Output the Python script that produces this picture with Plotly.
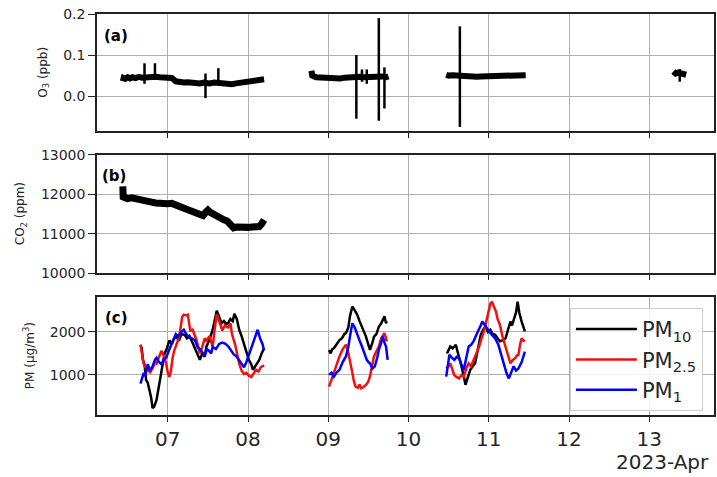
import numpy as np
import pandas as pd
import plotly.graph_objects as go

# ---------------- data (day-of-month, fractional) ----------------
o3_days = [6.44, 6.45, 6.47, 6.50, 6.53, 6.56, 6.60, 6.64, 6.68, 6.72, 6.76, 6.80, 6.85,
           6.90, 6.95, 7.00, 7.05, 7.10, 7.15, 7.20, 7.25, 7.30, 7.35, 7.40, 7.45, 7.48,
           7.52, 7.58, 7.64, 7.70, 7.75, 7.80, 7.85, 7.90, 7.95, 8.00, 8.05, 8.10, 8.15, 8.20,
           None,
           8.79, 8.80, 8.85, 8.90, 8.95, 9.00, 9.05, 9.10, 9.15, 9.20, 9.25, 9.30, 9.33, 9.36,
           9.40, 9.44, 9.50, 9.55, 9.60, 9.64, 9.68, 9.72, 9.75,
           None,
           10.47, 10.50, 10.55, 10.60, 10.65, 10.70, 10.75, 10.80, 10.85, 10.90, 10.95, 11.00,
           11.05, 11.10, 11.15, 11.20, 11.25, 11.30, 11.35, 11.40, 11.46,
           None,
           13.30, 13.33, 13.36, 13.40, 13.43, 13.46]
o3_vals = [0.036, 0.044, 0.042, 0.046, 0.043, 0.046, 0.044, 0.047, 0.045, 0.046, 0.046, 0.045, 0.047,
           0.046, 0.046, 0.045, 0.044, 0.036, 0.034, 0.033, 0.034, 0.032, 0.033, 0.031, 0.033, 0.032,
           0.031, 0.033, 0.032, 0.029, 0.030, 0.029, 0.031, 0.032, 0.033, 0.034, 0.035, 0.037, 0.040, 0.041,
           None,
           0.062, 0.050, 0.046, 0.045, 0.044, 0.044, 0.043, 0.041, 0.043, 0.045, 0.046, 0.047, 0.048, 0.046,
           0.047, 0.046, 0.047, 0.046, 0.047, 0.046, 0.048, 0.046, 0.048,
           None,
           0.052, 0.050, 0.051, 0.050, 0.050, 0.049, 0.048, 0.048, 0.047, 0.048, 0.048, 0.049,
           0.048, 0.049, 0.049, 0.050, 0.049, 0.050, 0.051, 0.050, 0.051,
           None,
           0.060, 0.055, 0.057, 0.055, 0.053, 0.052]

# O3 short spikes (time, low, high)
o3_spike_days = [6.71, 6.84, 7.47, 7.63, 9.35, 9.42, 9.48, 9.63, 9.70, 10.64, 13.38]
o3_spike_lo = [0.030, 0.040, -0.005, 0.030, -0.055, 0.035, 0.030, -0.060, -0.030, -0.075, 0.035]
o3_spike_hi = [0.080, 0.080, 0.055, 0.068, 0.100, 0.065, 0.065, 0.190, 0.070, 0.170, 0.066]

co2_days = [6.44, 6.445, 6.47, 6.50, 6.55, 6.60, 6.65, 6.70, 6.75, 6.80, 6.85, 6.90, 6.95,
            7.00, 7.05, 7.10, 7.15, 7.20, 7.25, 7.30, 7.35, 7.40, 7.44, 7.48, 7.50, 7.53,
            7.56, 7.60, 7.65, 7.70, 7.74, 7.78, 7.82, 7.86, 7.90, 7.95, 8.00, 8.05, 8.10,
            8.14, 8.17, 8.20]
co2_vals = [12200, 11880, 11920, 11890, 11910, 11880, 11890, 11850, 11830, 11800, 11780, 11760, 11770,
            11760, 11770, 11740, 11680, 11640, 11610, 11570, 11540, 11500, 11460, 11560, 11600, 11540,
            11500, 11450, 11400, 11350, 11320, 11200, 11150, 11170, 11160, 11170, 11160, 11170, 11160,
            11180, 11250, 11350]

pm10_days = [6.66, 6.675, 6.69, 6.71, 6.73, 6.75, 6.78, 6.795, 6.81, 6.83, 6.86, 6.88, 6.90, 6.93,
             6.96, 6.99, 7.02, 7.05, 7.08, 7.11, 7.14, 7.17, 7.21, 7.24, 7.27, 7.31, 7.34, 7.37,
             7.40, 7.43, 7.46, 7.48, 7.52, 7.56, 7.58, 7.61, 7.64, 7.67, 7.70, 7.73, 7.75, 7.78,
             7.81, 7.83, 7.86, 7.89, 7.92, 7.95, 7.98, 8.01, 8.04, 8.06, 8.09, 8.12, 8.14, 8.17, 8.20,
             None,
             9.01, 9.03, 9.05, 9.07, 9.10, 9.14, 9.17, 9.20, 9.22, 9.25, 9.27, 9.30, 9.33, 9.36,
             9.39, 9.42, 9.45, 9.47, 9.50, 9.52, 9.55, 9.57, 9.60, 9.63, 9.66, 9.70, 9.72, 9.73,
             None,
             10.48, 10.50, 10.52, 10.55, 10.59, 10.61, 10.63, 10.66, 10.69, 10.71, 10.74, 10.77,
             10.80, 10.83, 10.86, 10.90, 10.93, 10.96, 10.99, 11.02, 11.05, 11.08, 11.11, 11.14,
             11.17, 11.21, 11.24, 11.27, 11.29, 11.31, 11.34, 11.36, 11.38, 11.41, 11.43, 11.45]
pm10_vals = [1700, 1620, 1350, 1250, 880, 820, 580, 450, 230, 260, 420, 640, 880, 1150,
             1500, 1620, 1800, 1720, 1850, 1880, 1800, 1950, 1930, 1850, 1900, 1740, 1600, 1480,
             1350, 1500, 1420, 1650, 1820, 2050, 2200, 2490, 2350, 2200, 2250, 2180, 2200, 2300,
             2250, 2420, 2300, 2050, 1900, 1700, 1500, 1350, 1250, 1120, 1200, 1300, 1350, 1500, 1620,
             None,
             1580, 1500, 1600, 1620, 1700, 1810, 1850, 1950, 1970, 2100, 2360, 2590, 2500, 2400,
             2250, 2120, 2000, 1890, 1700, 1580, 1750, 1890, 1950, 2120, 2200, 2360, 2200, 2250,
             None,
             1500, 1600, 1660, 1620, 1700, 1550, 1430, 1200, 960, 770, 950, 1120,
             1200, 1270, 1550, 1930, 2050, 2120, 2000, 2050, 1950, 1930, 1850, 1780,
             1800, 1850, 2050, 2240, 2150, 2270, 2450, 2700, 2450, 2240, 2100, 2010]

pm25_days = [6.66, 6.68, 6.70, 6.73, 6.76, 6.78, 6.81, 6.84, 6.86, 6.89, 6.92, 6.95, 6.98, 7.00,
             7.02, 7.04, 7.06, 7.08, 7.11, 7.14, 7.16, 7.18, 7.20, 7.23, 7.25, 7.28, 7.31, 7.33,
             7.36, 7.40, 7.43, 7.46, 7.48, 7.52, 7.56, 7.58, 7.61, 7.64, 7.68, 7.71, 7.75, 7.78,
             7.80, 7.84, 7.87, 7.89, 7.92, 7.95, 7.98, 8.01, 8.04, 8.07, 8.10, 8.13, 8.16, 8.20,
             None,
             9.01, 9.04, 9.07, 9.10, 9.14, 9.18, 9.22, 9.24, 9.27, 9.30, 9.32, 9.34, 9.37, 9.39,
             9.41, 9.44, 9.47, 9.50, 9.52, 9.55, 9.57, 9.60, 9.63, 9.66, 9.70, 9.72, 9.73,
             None,
             10.47, 10.50, 10.52, 10.55, 10.57, 10.60, 10.63, 10.66, 10.69, 10.72, 10.75, 10.78,
             10.81, 10.85, 10.88, 10.91, 10.94, 10.97, 11.00, 11.02, 11.04, 11.06, 11.09, 11.11,
             11.14, 11.17, 11.21, 11.24, 11.27, 11.30, 11.33, 11.35, 11.37, 11.39, 11.41, 11.43, 11.45]
pm25_vals = [1700, 1500, 1260, 1150, 1080, 1060, 1150, 1300, 1260, 1400, 1560, 1450, 1260, 1050,
             950, 1100, 1400, 1560, 1700, 1870, 2100, 2350, 2400, 2380, 2400, 2030, 2050, 1950,
             1800, 1500, 1650, 1850, 1800, 1900, 1650, 2000, 2410, 2250, 2030, 2150, 2100, 2200,
             1950, 1700, 1450, 1260, 1100, 1020, 1050, 980, 950, 1050, 1120, 1080, 1180, 1220,
             None,
             730, 900, 1050, 1250, 1430, 1600, 1700, 1600, 1350, 1050, 850, 730, 700, 780,
             690, 720, 770, 850, 970, 1250, 1430, 1550, 1660, 1850, 1970, 1850, 1780,
             None,
             1150, 1200, 1270, 1100, 1000, 950, 920, 1000, 960, 1150, 1270, 1200,
             1350, 1500, 1660, 1850, 2010, 2250, 2510, 2650, 2700, 2600, 2470, 2300,
             2160, 1900, 1660, 1450, 1270, 1350, 1390, 1450, 1470, 1700, 1850, 1800, 1780]

pm1_days = [6.66, 6.68, 6.70, 6.72, 6.75, 6.78, 6.81, 6.84, 6.86, 6.89, 6.92, 6.95, 6.98, 7.01,
            7.04, 7.07, 7.10, 7.13, 7.16, 7.20, 7.23, 7.27, 7.30, 7.34, 7.37, 7.40, 7.43, 7.46,
            7.49, 7.51, 7.54, 7.56, 7.60, 7.64, 7.68, 7.72, 7.76, 7.79, 7.82, 7.86, 7.89, 7.92,
            7.95, 7.98, 8.00, 8.03, 8.06, 8.09, 8.12, 8.15, 8.18, 8.20,
            None,
            9.01, 9.04, 9.07, 9.10, 9.14, 9.18, 9.22, 9.25, 9.27, 9.30, 9.33, 9.36, 9.39, 9.42,
            9.45, 9.48, 9.50, 9.52, 9.55, 9.58, 9.61, 9.63, 9.66, 9.68, 9.70, 9.72, 9.74,
            None,
            10.47, 10.49, 10.51, 10.54, 10.57, 10.60, 10.63, 10.66, 10.69, 10.72, 10.75, 10.78,
            10.81, 10.85, 10.88, 10.90, 10.92, 10.95, 10.98, 11.01, 11.04, 11.08, 11.12, 11.15,
            11.19, 11.22, 11.25, 11.28, 11.31, 11.34, 11.37, 11.41, 11.45]
pm1_vals = [800, 950, 1050, 980, 1250, 1100, 1200, 1350, 1400, 1300, 1250, 1350, 1400, 1550,
            1700, 1800, 1950, 1900, 1980, 2050, 1950, 1870, 1850, 1800, 1650, 1600, 1530, 1450,
            1600, 1570, 1500, 1650, 1600, 1720, 1750, 1720, 1650, 1570, 1480, 1420, 1330, 1250,
            1180, 1300, 1400, 1550, 1720, 1900, 2050, 1850, 1720, 1570,
            None,
            1000, 1050, 960, 1050, 1120, 1300, 1430, 1650, 1890, 2200, 2100, 1970, 1800, 1660,
            1500, 1350, 1300, 1270, 1150, 1200, 1400, 1580, 1750, 1890, 1750, 1660, 1350,
            None,
            960, 1200, 1470, 1400, 1350, 1420, 1390, 1250, 1120, 1400, 1660, 1700,
            1780, 1950, 2050, 2150, 2240, 2150, 2080, 2000, 1930, 1850, 1700, 1500,
            1270, 1050, 920, 1050, 1200, 1100, 1150, 1300, 1540]

x_tick_days = [7, 8, 9, 10, 11, 12, 13]
x_range_days = [6.118, 13.807]

# ---------------- helpers ----------------
BASE = pd.Timestamp("2023-03-31")


def to_time(days):
    return [None if d is None else (BASE + pd.Timedelta(days=d)).strftime("%Y-%m-%d %H:%M:%S")
            for d in days]


spike_x, spike_y = [], []
for d, lo, hi in zip(o3_spike_days, o3_spike_lo, o3_spike_hi):
    t = to_time([d])[0]
    spike_x += [t, t, None]
    spike_y += [lo, hi, None]

FONT = "DejaVu Sans"
TXT = "#262626"

fig = go.Figure()
fig.add_trace(go.Scatter(x=to_time(o3_days), y=o3_vals, mode="lines",
                         line=dict(color="black", width=6), showlegend=False,
                         xaxis="x", yaxis="y"))
fig.add_trace(go.Scatter(x=spike_x, y=spike_y, mode="lines",
                         line=dict(color="black", width=2.5), showlegend=False,
                         xaxis="x", yaxis="y"))
fig.add_trace(go.Scatter(x=to_time(co2_days), y=co2_vals, mode="lines",
                         line=dict(color="black", width=7), showlegend=False,
                         xaxis="x2", yaxis="y2"))
fig.add_trace(go.Scatter(x=to_time(pm10_days), y=pm10_vals, mode="lines", name="PM<sub>10</sub>",
                         line=dict(color="black", width=2.5), xaxis="x3", yaxis="y3"))
fig.add_trace(go.Scatter(x=to_time(pm25_days), y=pm25_vals, mode="lines", name="PM<sub>2.5</sub>",
                         line=dict(color="#f01010", width=2.5), xaxis="x3", yaxis="y3"))
fig.add_trace(go.Scatter(x=to_time(pm1_days), y=pm1_vals, mode="lines", name="PM<sub>1</sub>",
                         line=dict(color="#0000ff", width=2.5), xaxis="x3", yaxis="y3"))

xr = to_time(x_range_days)
xcommon = dict(type="date", range=xr, tickvals=to_time(x_tick_days),
               showgrid=True, gridcolor="#b0b0b0", gridwidth=1,
               showline=True, linecolor="#222222", linewidth=1.5, mirror=True,
               ticks="outside", ticklen=5, tickcolor="#222222", zeroline=False)
ycommon = dict(showgrid=True, gridcolor="#b0b0b0", gridwidth=1,
               showline=True, linecolor="#222222", linewidth=1.5, mirror=True,
               ticks="outside", ticklen=7, tickcolor="#222222", zeroline=False,
               tickfont=dict(family=FONT, size=14, color=TXT))

fig.update_layout(
    width=717, height=477,
    margin=dict(l=97, r=1, t=14, b=62),
    paper_bgcolor="white", plot_bgcolor="white",
    font=dict(family=FONT, color=TXT),
    xaxis=dict(**xcommon, anchor="y", showticklabels=False),
    xaxis2=dict(**xcommon, anchor="y2", showticklabels=False, matches="x"),
    xaxis3=dict(**xcommon, anchor="y3", showticklabels=True, matches="x",
                tickformat="%d", tickfont=dict(family=FONT, size=20, color=TXT)),
    yaxis=dict(**ycommon, domain=[0.7082, 1.0], range=[-0.085, 0.2],
               tickvals=[0.0, 0.1, 0.2], ticktext=["0.0", "0.1", "0.2"]),
    yaxis2=dict(**ycommon, domain=[0.3541, 0.6484], range=[10000, 13000],
                tickvals=[10000, 11000, 12000, 13000], tickformat="d"),
    yaxis3=dict(**ycommon, domain=[0.0, 0.2943], range=[70, 2810],
                tickvals=[1000, 2000], tickformat="d"),
    legend=dict(x=0.982, xanchor="right", y=0.267, yanchor="top",
                bgcolor="rgba(255,255,255,0.85)", bordercolor="#cccccc", borderwidth=1,
                itemwidth=61,
                font=dict(family=FONT, size=21, color=TXT)),
)

annots = [
    dict(text="(a)", xref="x domain", yref="y domain", x=0.008, y=0.81),
    dict(text="(b)", xref="x2 domain", yref="y2 domain", x=0.005, y=0.82),
    dict(text="(c)", xref="x3 domain", yref="y3 domain", x=0.01, y=0.82),
]
for a in annots:
    fig.add_annotation(**a, xanchor="left", yanchor="middle", showarrow=False,
                       font=dict(family=FONT, size=15, color="black", weight="bold"))

ytitles = [
    ("O<sub>3</sub> (ppb)", "y domain", -0.0872),
    ("CO<sub>2</sub> (ppm)", "y2 domain", -0.1228),
    ("PM (μg/m<sup>3</sup>)", "y3 domain", -0.1099),
]
for txt, yref, x in ytitles:
    fig.add_annotation(text=txt, xref="paper", yref=yref, x=x, y=0.5, textangle=-90,
                       xanchor="center", yanchor="middle", showarrow=False,
                       font=dict(family=FONT, size=12, color=TXT))

fig.add_annotation(text="2023-Apr", xref="paper", yref="paper", x=0.995, y=-0.117,
                   xanchor="right", yanchor="middle", showarrow=False,
                   font=dict(family=FONT, size=20, color=TXT))

fig.write_html("out.html")
